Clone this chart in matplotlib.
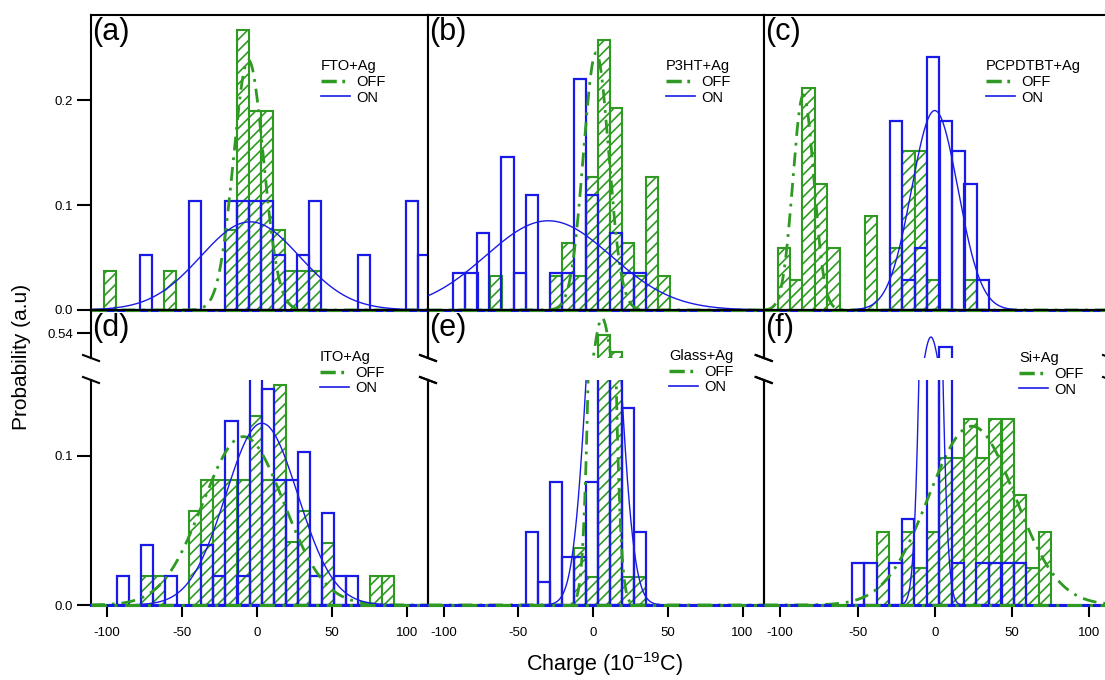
import numpy as np
import matplotlib.pyplot as plt
from matplotlib.lines import Line2D

plt.rcParams['font.family'] = ['Liberation Sans', 'DejaVu Sans']
plt.rcParams['hatch.linewidth'] = 1.2

GREEN = '#2e9a22'
BLUE = '#1a1ae6'
BIN_W = 8.05

# ---- histogram data: bin centres (10^-19 C) and probabilities ----
a_off_x = [-97.8, -57.6, -17.3, -9.3, -1.2, 6.8, 14.9, 22.9, 31.0, 39.0]
a_off_y = [0.037, 0.037, 0.076, 0.267, 0.19, 0.19, 0.076, 0.037, 0.037, 0.037]
a_on_x = [-73.7, -41.5, -17.3, -9.3, -1.2, 6.8, 14.9, 31.0, 39.0, 71.2, 103.4, 111.5]
a_on_y = [0.052, 0.104, 0.104, 0.104, 0.104, 0.104, 0.052, 0.052, 0.104, 0.052, 0.104, 0.052]

b_off_x = [-65.3, -25.1, -17.0, -9.0, -0.9, 7.1, 15.2, 23.2, 31.3, 39.3, 47.4]
b_off_y = [0.032, 0.032, 0.0635, 0.032, 0.127, 0.257, 0.192, 0.0635, 0.032, 0.127, 0.032]
b_on_x = [-89.5, -81.4, -73.4, -57.3, -49.2, -41.2, -25.1, -17.0, -9.0, -0.9, 15.2, 23.2, 31.3]
b_on_y = [0.035, 0.035, 0.073, 0.146, 0.035, 0.11, 0.035, 0.035, 0.22, 0.11, 0.073, 0.035, 0.035]

c_off_x = [-97.7, -89.6, -81.6, -73.5, -65.4, -41.2, -25.1, -17.1, -9.0, -1.0, 23.2]
c_off_y = [0.0588, 0.0286, 0.211, 0.12, 0.0588, 0.0895, 0.0588, 0.151, 0.151, 0.0286, 0.0286]
c_on_x = [-25.1, -17.1, -9.0, -1.0, 7.1, 15.2, 23.2, 31.3]
c_on_y = [0.18, 0.0286, 0.0588, 0.241, 0.18, 0.151, 0.12, 0.0286]

d_off_x = [-73.2, -65.2, -41.0, -33.0, -25.0, -16.9, -8.9, -0.8, 7.2, 15.2, 23.3, 31.3, 47.4, 79.6, 87.6]
d_off_y = [0.0195, 0.0195, 0.063, 0.0839, 0.0839, 0.0839, 0.0839, 0.1268, 0.0839, 0.1477,
           0.042, 0.063, 0.0418, 0.0195, 0.0195]
d_on_x = [-89.3, -73.2, -57.1, -33.0, -25.0, -16.9, -8.9, -0.8, 7.2, 15.2, 23.3, 31.3, 39.4,
          47.4, 55.4, 63.5]
d_on_y = [0.0195, 0.0403, 0.0195, 0.0403, 0.0195, 0.1237, 0.0195, 0.2, 0.1447, 0.0839, 0.0839,
          0.1029, 0.0195, 0.0615, 0.0195, 0.0195]

e_off_x = [-8.8, -0.8, 7.3, 15.3, 23.4, 31.5]
e_off_y = [0.038, 0.019, 0.525, 0.401, 0.019, 0.019]
e_on_x = [-41.1, -33.0, -25.0, -16.9, -8.8, -0.8, 7.3, 15.3, 23.4, 31.5]
e_on_y = [0.0492, 0.0157, 0.0823, 0.0324, 0.0324, 0.0823, 0.30, 0.22, 0.1324, 0.0492]

f_off_x = [-33.4, -17.3, -9.3, -1.2, 6.9, 14.9, 23.0, 31.0, 39.1, 47.2, 55.2, 63.3, 71.3]
f_off_y = [0.0492, 0.0492, 0.0246, 0.0492, 0.0985, 0.0985, 0.1246, 0.0985, 0.1246, 0.1246,
           0.0738, 0.0246, 0.0492]
f_on_x = [-49.6, -41.5, -25.4, -17.3, -1.2, 6.9, 14.9, 31.0, 39.1, 47.2, 55.2]
f_on_y = [0.028, 0.028, 0.028, 0.058, 0.28, 0.438, 0.028, 0.028, 0.028, 0.028, 0.028]

# Gaussian fits: (centre, sigma, amplitude)
a_off_fit, a_on_fit = (-5.6, 10, 0.238), (-4.5, 33, 0.084)
b_off_fit, b_on_fit = (2, 8.5, 0.245), (-30, 42, 0.085)
c_off_fit, c_on_fit = (-85, 6.8, 0.205), (0, 15, 0.19)
d_off_fit, d_on_fit = (-9, 27, 0.113), (3.3, 24, 0.122)
e_off_fit, e_on_fit = (6, 5.5, 0.649), (7, 10, 0.30)
f_off_fit, f_on_fit = (24, 28, 0.12), (-2.5, 5, 0.511)

titles = ['FTO+Ag', 'P3HT+Ag', 'PCPDTBT+Ag', 'ITO+Ag', 'Glass+Ag', 'Si+Ag']
letters = ['(a)', '(b)', '(c)', '(d)', '(e)', '(f)']

panels = [
    (a_off_x, a_off_y, a_on_x, a_on_y, a_off_fit, a_on_fit),
    (b_off_x, b_off_y, b_on_x, b_on_y, b_off_fit, b_on_fit),
    (c_off_x, c_off_y, c_on_x, c_on_y, c_off_fit, c_on_fit),
    (d_off_x, d_off_y, d_on_x, d_on_y, d_off_fit, d_on_fit),
    (e_off_x, e_off_y, e_on_x, e_on_y, e_off_fit, e_on_fit),
    (f_off_x, f_off_y, f_on_x, f_on_y, f_off_fit, f_on_fit),
]

XLIM = (-110.5, 114)
W, H = 1105, 680
COLS = [(91, 428), (428, 763.5), (764, 1111)]
DASHDOT = (0, (5, 2.5, 1, 2.5))


def box(x0, y0, x1, y1):
    return [x0 / W, 1 - y1 / H, (x1 - x0) / W, (y1 - y0) / H]


def gauss(x, c, s, a):
    return a * np.exp(-(x - c) ** 2 / (2 * s ** 2))


def draw(ax, p):
    off_x, off_y, on_x, on_y, off_fit, on_fit = p
    ax.bar(off_x, off_y, width=BIN_W, facecolor='white', edgecolor=GREEN,
           hatch='///', linewidth=1.5, zorder=1)
    ax.bar(on_x, on_y, width=BIN_W, facecolor='none', edgecolor=BLUE,
           linewidth=1.6, zorder=2)
    xs = np.linspace(XLIM[0], XLIM[1], 800)
    ax.plot(xs, gauss(xs, *off_fit), color=GREEN, lw=2, ls=DASHDOT, zorder=3)
    ax.plot(xs, gauss(xs, *on_fit), color=BLUE, lw=1, zorder=4)
    ax.set_xlim(*XLIM)


def baseline(ax):
    # thick zero line as in the original (fit curves lying on the axis)
    ax.axhline(0, color=BLUE, lw=2.2, zorder=5, clip_on=False)
    ax.axhline(0, color=GREEN, lw=2.2, ls=DASHDOT, zorder=6, clip_on=False)


def style(ax, col):
    for sp in ax.spines.values():
        sp.set_linewidth(1.5)
    ax.tick_params(axis='both', direction='out', width=1.5, labelsize=9.5)
    ax.tick_params(axis='y', length=10, pad=3)
    ax.tick_params(axis='x', length=8.5, pad=7)
    ax.set_xticks([])
    if col > 0:
        ax.set_yticks([])


def add_legend(ax, title, x, y):
    handles = [Line2D([], [], color=GREEN, lw=2.5, ls=(0, (4.4, 1.6, 0.8, 3))),
               Line2D([], [], color=BLUE, lw=1.2)]
    ax.legend(handles, ['OFF', 'ON'], title=title, loc='upper left',
              bbox_to_anchor=(x / W, 1 - y / H), bbox_transform=fig.transFigure,
              frameon=False, fontsize=10.5, title_fontsize=10.5, handlelength=2.0,
              handletextpad=0.45, borderpad=0, borderaxespad=0, labelspacing=0.12,
              alignment='left')


fig = plt.figure(figsize=(W / 100, H / 100), dpi=100)

legend_pos = [(321, 59), (666, 59), (986, 59), (320, 350), (669, 349), (1019, 351)]

# top row
for col in range(3):
    x0, x1 = COLS[col]
    ax = fig.add_axes(box(x0, 15, x1, 310))
    draw(ax, panels[col])
    baseline(ax)
    ax.set_ylim(0, 0.281)
    style(ax, col)
    if col == 0:
        ax.set_yticks([0, 0.1, 0.2], ['0.0', '0.1', '0.2'])
    fig.text((x0 + 1) / W, 1 - 17 / H, letters[col], fontsize=22, va='top', ha='left')
    add_legend(ax, titles[col], *legend_pos[col])

# bottom row, broken y axis
for col in range(3):
    x0, x1 = COLS[col]
    p = panels[col + 3]
    up = fig.add_axes(box(x0, 310, x1, 358))
    up.set_facecolor('none')
    draw(up, p)
    up.set_ylim(0.358, 0.708)
    style(up, col)
    up.spines['bottom'].set_visible(False)
    if col == 0:
        up.set_yticks([0.54], ['0.54'])

    low = fig.add_axes(box(x0, 380, x1, 605))
    low.set_facecolor('none')
    draw(low, p)
    baseline(low)
    low.set_ylim(0, 0.151)
    style(low, col)
    low.spines['top'].set_visible(False)
    low.set_xticks([-100, -50, 0, 50, 100], ['-100', '-50', '0', '50', '100'])
    if col == 0:
        low.set_yticks([0, 0.1], ['0.0', '0.1'])
    fig.text((x0 + 1) / W, 1 - 313 / H, letters[col + 3], fontsize=22, va='top', ha='left')
    add_legend(low, titles[col + 3], *legend_pos[col + 3])

    # break marks on both spines
    for xs in (x0, x1):
        for ys in (358, 380):
            fig.add_artist(Line2D([(xs - 8) / W, (xs + 8) / W],
                                  [1 - (ys - 3) / H, 1 - (ys + 3) / H],
                                  transform=fig.transFigure, color='black', lw=1.5))

fig.text(22 / W, 1 - 357 / H, 'Probability (a.u)', rotation=90, fontsize=15,
         ha='center', va='center')
fig.text(605 / W, 1 - 664 / H, 'Charge (10$^{\\mathregular{-19}}$C)', fontsize=15.5,
         ha='center', va='center')

fig.savefig('out.png', dpi=100)
